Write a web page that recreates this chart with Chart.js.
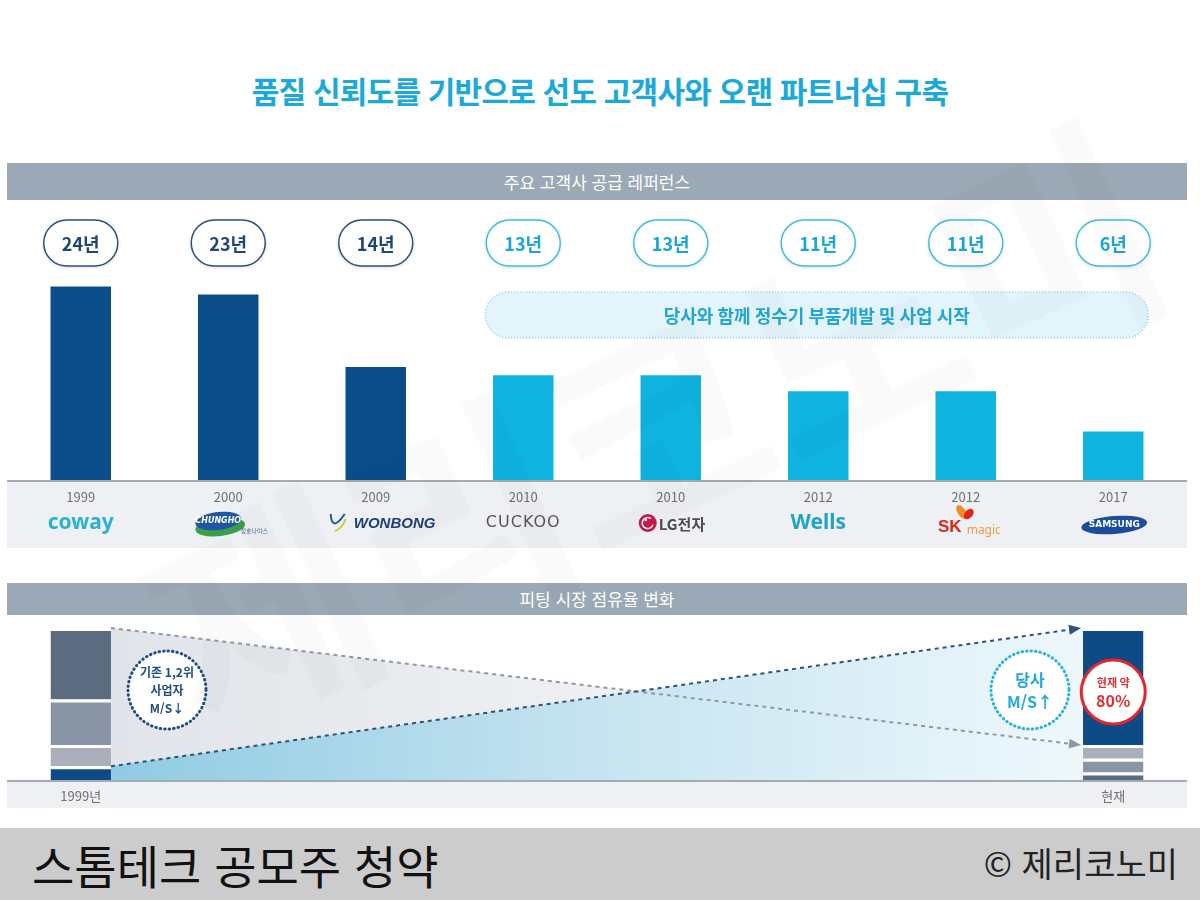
<!DOCTYPE html>
<html lang="ko">
<head>
<meta charset="utf-8">
<script src="https://cdn.jsdelivr.net/npm/chart.js@4.4.1/dist/chart.umd.min.js"></script>
<style>
  html, body { margin: 0; padding: 0; background: #fff; }
  body { width: 1200px; height: 900px; position: relative; overflow: hidden; font-family: 'Noto Sans CJK KR', 'Noto Sans', sans-serif; }
  .title { position: absolute; top: 68px; left: 0; width: 1200px; text-align: center; font-size: 30px; font-weight: 700; color: #1ba9da; letter-spacing: -0.8px; line-height: 44px; }
  .band { position: absolute; left: 7px; width: 1180px; background: #9ba8b5; color: #fff; text-align: center; font-size: 17px; }
  #band1 { top: 163px; height: 37px; line-height: 37px; }
  #band2 { top: 583px; height: 32px; line-height: 32px; }
  .box { position: absolute; left: 0; width: 1200px; }
  #box1 { top: 200px; height: 360px; }
  #box2 { top: 615px; height: 193px; }
  .footer { position: absolute; left: 0; top: 828px; width: 1200px; height: 72px; background: #cccccc; }
  .footer .left { position: absolute; left: 32px; top: 8px; font-size: 46px; line-height: 56px; color: #111; }
  .footer .right { position: absolute; right: 22px; top: 12px; font-size: 34px; line-height: 46px; color: #222; }
  .watermark { position: absolute; left: 110px; top: 250px; font-size: 235px; font-weight: 700; color: rgba(0,0,0,0.02); transform: rotate(-25deg); transform-origin: center; white-space: nowrap; pointer-events: none; }
</style>
</head>
<body>
<div class="title">품질 신뢰도를 기반으로 선도 고객사와 오랜 파트너십 구축</div>
<div class="band" id="band1">주요 고객사 공급 레퍼런스</div>
<div class="box" id="box1"><canvas id="refChart" width="1200" height="360"></canvas></div>
<div class="band" id="band2">피팅 시장 점유율 변화</div>
<div class="box" id="box2"><canvas id="shareChart" width="1200" height="193"></canvas></div>
<div class="footer"><span class="left">스톰테크 공모주 청약</span><span class="right">© 제리코노미</span></div>
<div class="watermark">제리코노미</div>
<script>
// supply references
const years = ['1999', '2000', '2009', '2010', '2010', '2012', '2012', '2017'];
const customers = ['coway', 'CHUNGHO', 'WONBONG', 'CUCKOO', 'LG전자', 'Wells', 'SK magic', 'SAMSUNG'];
const partnerYears = [24, 23, 14, 13, 13, 11, 11, 6];
const withUs = [false, false, false, true, true, true, true, true];

// fitting market share (bottom -> top for 1999, per company)
const periods = ['1999년', '', '', '', '', '', '', '현재'];
const shareCompanies = ['당사', '3위 업체', '2위 업체', '1위 업체'];
const share1999 = [9, 14, 30, 47];
const shareNow = [77, 9, 9, 5];

const NAVY = '#0b4c8a';
const CYAN = '#0fb3e0';
const FONT = "'Noto Sans CJK KR', 'Noto Sans', sans-serif";
Chart.defaults.font.family = FONT;

function roundRect(ctx, x, y, w, h, r) {
  ctx.beginPath();
  ctx.moveTo(x + r, y);
  ctx.arcTo(x + w, y, x + w, y + h, r);
  ctx.arcTo(x + w, y + h, x, y + h, r);
  ctx.arcTo(x, y + h, x, y, r);
  ctx.arcTo(x, y, x + w, y, r);
  ctx.closePath();
}

function drawLogo(ctx, name, x, y) {
  ctx.save();
  ctx.textAlign = 'center';
  ctx.textBaseline = 'middle';
  switch (name) {
    case 'coway':
      ctx.fillStyle = '#27b1dc';
      ctx.font = 'bold 21px "Noto Sans"';
      ctx.fillText('coway', x, y);
      break;
    case 'CHUNGHO':
      ctx.fillStyle = '#3a9f48';
      ctx.beginPath(); ctx.ellipse(x - 8, y + 4, 25, 9, -0.12, 0, Math.PI * 2); ctx.fill();
      ctx.fillStyle = '#1f56a6';
      ctx.beginPath(); ctx.ellipse(x - 10, y - 2, 23, 9, -0.12, 0, Math.PI * 2); ctx.fill();
      ctx.fillStyle = '#fff';
      ctx.font = 'italic bold 8px "DejaVu Sans"';
      ctx.fillText('CHUNGHO', x - 10, y - 2);
      ctx.fillStyle = '#4d6fa8';
      ctx.font = '6px ' + FONT;
      ctx.fillText('청호나이스', x + 26, y + 8);
      break;
    case 'WONBONG':
      ctx.lineWidth = 2;
      ctx.strokeStyle = '#1d5a9a';
      ctx.beginPath(); ctx.moveTo(x - 45, y - 9); ctx.quadraticCurveTo(x - 44, y + 10, x - 31, y - 9); ctx.stroke();
      ctx.strokeStyle = '#c9cf2f';
      ctx.beginPath(); ctx.moveTo(x - 41, y + 8); ctx.quadraticCurveTo(x - 34, y + 6, x - 30, y - 4); ctx.stroke();
      ctx.fillStyle = '#1d3f7a';
      ctx.font = 'italic bold 15px "Liberation Sans"';
      ctx.textAlign = 'left';
      ctx.fillText('WONBONG', x - 22, y + 1);
      break;
    case 'CUCKOO':
      ctx.fillStyle = '#555';
      ctx.font = '16px "DejaVu Sans"';
      ctx.letterSpacing = '1px';
      ctx.fillText('CUCKOO', x, y);
      break;
    case 'LG전자':
      ctx.fillStyle = '#c8174b';
      ctx.beginPath(); ctx.arc(x - 23, y, 9, 0, Math.PI * 2); ctx.fill();
      ctx.strokeStyle = '#fff'; ctx.lineWidth = 1.5;
      ctx.beginPath(); ctx.arc(x - 23, y, 5.5, 0.3, Math.PI * 1.7); ctx.stroke();
      ctx.fillStyle = '#fff';
      ctx.beginPath(); ctx.arc(x - 25, y - 3, 1.2, 0, Math.PI * 2); ctx.fill();
      ctx.fillStyle = '#4d4d4d';
      ctx.font = 'bold 15px ' + FONT;
      ctx.textAlign = 'left';
      ctx.fillText('LG전자', x - 12, y + 1);
      break;
    case 'Wells':
      ctx.fillStyle = '#22a3c9';
      ctx.font = 'bold 21px "Noto Sans"';
      ctx.fillText('Wells', x, y);
      break;
    case 'SK magic':
      ctx.fillStyle = '#f08a24';
      ctx.beginPath(); ctx.ellipse(x - 4, y - 11, 4, 8, -0.6, 0, Math.PI * 2); ctx.fill();
      ctx.fillStyle = '#e2231a';
      ctx.beginPath(); ctx.ellipse(x + 3, y - 9, 4, 6, 0.7, 0, Math.PI * 2); ctx.fill();
      ctx.fillStyle = '#e2231a';
      ctx.font = 'bold 17px "Liberation Sans"';
      ctx.fillText('SK', x - 16, y + 4);
      ctx.fillStyle = '#f29b45';
      ctx.font = '12px "Noto Sans"';
      ctx.fillText('magic', x + 18, y + 8);
      break;
    case 'SAMSUNG':
      ctx.fillStyle = '#1b4c9d';
      ctx.beginPath(); ctx.ellipse(x + 1, y + 2, 33, 9, -0.08, 0, Math.PI * 2); ctx.fill();
      ctx.fillStyle = '#fff';
      ctx.font = 'bold 9px "DejaVu Sans"';
      ctx.fillText('SAMSUNG', x + 1, y + 2);
      break;
  }
  ctx.restore();
}

const refDecor = {
  id: 'refDecor',
  beforeDraw(chart) {
    const { ctx, chartArea } = chart;
    ctx.save();
    ctx.fillStyle = '#eef0f3';
    ctx.fillRect(chartArea.left, chartArea.bottom, chartArea.right - chartArea.left, 68);
    ctx.restore();
  },
  beforeDatasetsDraw(chart) {
    const { ctx } = chart;
    const xs = chart.scales.x;
    const first = withUs.indexOf(true);
    const last = withUs.lastIndexOf(true);
    const x1 = xs.getPixelForValue(first) - 38;
    const x2 = xs.getPixelForValue(last) + 35;
    ctx.save();
    roundRect(ctx, x1, 92, x2 - x1, 46, 23);
    ctx.fillStyle = '#e4f4fb';
    ctx.fill();
    ctx.setLineDash([1, 2]);
    ctx.lineWidth = 1.5;
    ctx.strokeStyle = '#86d2ec';
    ctx.stroke();
    ctx.setLineDash([]);
    ctx.fillStyle = '#22a6d8';
    ctx.font = 'bold 18px ' + FONT;
    ctx.textAlign = 'center';
    ctx.textBaseline = 'middle';
    ctx.fillText('당사와 함께 정수기 부품개발 및 사업 시작', (x1 + x2) / 2, 116);
    ctx.restore();
  },
  afterDatasetsDraw(chart) {
    const { ctx, chartArea } = chart;
    const xs = chart.scales.x;
    ctx.save();
    ctx.strokeStyle = '#a3abb4';
    ctx.lineWidth = 2;
    ctx.beginPath();
    ctx.moveTo(chartArea.left, chartArea.bottom + 1);
    ctx.lineTo(chartArea.right, chartArea.bottom + 1);
    ctx.stroke();
    partnerYears.forEach((v, i) => {
      const x = xs.getPixelForValue(i);
      ctx.save();
      roundRect(ctx, x - 37, 20, 74, 46, 23);
      ctx.shadowColor = 'rgba(0,0,0,0.18)';
      ctx.shadowBlur = 4;
      ctx.shadowOffsetY = 1;
      ctx.fillStyle = '#fff';
      ctx.fill();
      ctx.shadowColor = 'transparent';
      ctx.lineWidth = 1.5;
      ctx.strokeStyle = withUs[i] ? '#3dbde6' : '#2c4f7c';
      ctx.stroke();
      ctx.fillStyle = withUs[i] ? '#1aa6d9' : '#1f4678';
      ctx.font = 'bold 18px ' + FONT;
      ctx.textAlign = 'center';
      ctx.textBaseline = 'middle';
      ctx.fillText(v + '년', x, 44);
      ctx.restore();
      drawLogo(ctx, customers[i], x, chartArea.bottom + 43);
    });
    ctx.restore();
  }
};

new Chart(document.getElementById('refChart'), {
  type: 'bar',
  data: {
    labels: years,
    datasets: [{
      label: '거래 기간',
      data: partnerYears,
      backgroundColor: withUs.map(w => w ? CYAN : NAVY),
      categoryPercentage: 1,
      barPercentage: 0.41
    }]
  },
  options: {
    responsive: false,
    animation: false,
    devicePixelRatio: 1,
    layout: { padding: { left: 7, right: 13, top: 38, bottom: 0 } },
    plugins: { legend: { display: false }, tooltip: { enabled: false } },
    scales: {
      x: {
        grid: { display: false, drawTicks: false },
        border: { display: false },
        ticks: { color: '#707070', font: { size: 13 }, padding: 9 },
        afterFit(scale) { scale.height = 80; }
      },
      y: { display: false, min: 0, max: 30 }
    }
  },
  plugins: [refDecor]
});

// market share chart
const shareColors = { '당사': '#0d4b87', '3위 업체': '#a9b0bc', '2위 업체': '#8995a5', '1위 업체': '#5b6c80' };
const shareSets = [];
shareCompanies.forEach((c, k) => {
  const d = periods.map(() => null);
  d[0] = share1999[k];
  shareSets.push({ label: c + ' (1999)', data: d, backgroundColor: shareColors[c] });
});
shareCompanies.slice().reverse().forEach(c => {
  const k = shareCompanies.indexOf(c);
  const d = periods.map(() => null);
  d[periods.length - 1] = shareNow[k];
  shareSets.push({ label: c + ' (현재)', data: d, backgroundColor: shareColors[c] });
});
shareSets.forEach(s => {
  s.categoryPercentage = 1;
  s.barPercentage = 0.41;
  s.borderColor = '#fff';
  s.borderWidth = { top: 3, right: 0, bottom: 0, left: 0 };
  s.borderSkipped = 'start';
});

function arrowLine(ctx, x1, y1, x2, y2, color) {
  const a = Math.atan2(y2 - y1, x2 - x1);
  ctx.save();
  ctx.strokeStyle = color;
  ctx.lineWidth = 2;
  ctx.setLineDash([4, 4]);
  ctx.beginPath();
  ctx.moveTo(x1, y1);
  ctx.lineTo(x2 - 10 * Math.cos(a), y2 - 10 * Math.sin(a));
  ctx.stroke();
  ctx.setLineDash([]);
  ctx.fillStyle = color;
  ctx.beginPath();
  ctx.moveTo(x2, y2);
  ctx.lineTo(x2 - 12 * Math.cos(a) + 5 * Math.sin(a), y2 - 12 * Math.sin(a) - 5 * Math.cos(a));
  ctx.lineTo(x2 - 12 * Math.cos(a) - 5 * Math.sin(a), y2 - 12 * Math.sin(a) + 5 * Math.cos(a));
  ctx.closePath();
  ctx.fill();
  ctx.restore();
}

function dottedCircle(ctx, x, y, r, color) {
  ctx.save();
  ctx.beginPath();
  ctx.arc(x, y, r, 0, Math.PI * 2);
  ctx.fillStyle = '#fff';
  ctx.fill();
  ctx.setLineDash([0.5, 4]);
  ctx.lineCap = 'round';
  ctx.lineWidth = 3;
  ctx.strokeStyle = color;
  ctx.stroke();
  ctx.restore();
}

const shareDecor = {
  id: 'shareDecor',
  beforeDraw(chart) {
    const { ctx, chartArea } = chart;
    ctx.save();
    ctx.fillStyle = '#eef0f3';
    ctx.fillRect(chartArea.left, chartArea.bottom, chartArea.right - chartArea.left, 28);
    ctx.restore();
  },
  beforeDatasetsDraw(chart) {
    const { ctx } = chart;
    const xs = chart.scales.x, ys = chart.scales.y;
    const half = chart.getDatasetMeta(0).data[0].width / 2;
    const L = xs.getPixelForValue(0) + half;
    const R = xs.getPixelForValue(periods.length - 1) - half;
    const base = ys.getPixelForValue(0);
    const topL = ys.getPixelForValue(share1999.reduce((a, b) => a + b, 0));
    const oursL = ys.getPixelForValue(share1999[0]);
    const topR = ys.getPixelForValue(shareNow.reduce((a, b) => a + b, 0));
    const othersR = ys.getPixelForValue(shareNow.slice(1).reduce((a, b) => a + b, 0));
    ctx.save();
    let g = ctx.createLinearGradient(L, 0, R, 0);
    g.addColorStop(0, '#e1e4e9');
    g.addColorStop(0.6, '#f1f2f4');
    g.addColorStop(1, '#ffffff');
    ctx.fillStyle = g;
    ctx.beginPath();
    ctx.moveTo(L, topL); ctx.lineTo(R, othersR); ctx.lineTo(R, base); ctx.lineTo(L, base);
    ctx.closePath(); ctx.fill();
    g = ctx.createLinearGradient(L, 0, R, 0);
    g.addColorStop(0, '#8fcbe3');
    g.addColorStop(0.5, '#c6e4f0');
    g.addColorStop(1, '#eef8fc');
    ctx.fillStyle = g;
    ctx.beginPath();
    ctx.moveTo(L, oursL); ctx.lineTo(R, topR); ctx.lineTo(R, base); ctx.lineTo(L, base);
    ctx.closePath(); ctx.fill();
    ctx.restore();
    arrowLine(ctx, L, topL, R - 2, othersR, '#8d99a6');
    arrowLine(ctx, L, oursL, R - 2, topR, '#2f5079');
  },
  afterDatasetsDraw(chart) {
    const { ctx, chartArea } = chart;
    const xs = chart.scales.x;
    ctx.save();
    ctx.strokeStyle = '#a3abb4';
    ctx.lineWidth = 2;
    ctx.beginPath();
    ctx.moveTo(chartArea.left, chartArea.bottom + 1);
    ctx.lineTo(chartArea.right, chartArea.bottom + 1);
    ctx.stroke();
    ctx.textAlign = 'center';
    ctx.textBaseline = 'middle';

    dottedCircle(ctx, 167, 75, 39, '#1e4c85');
    ctx.fillStyle = '#1e4c85';
    ctx.font = 'bold 12px ' + FONT;
    ctx.fillText('기존 1,2위', 167, 57);
    ctx.fillText('사업자', 167, 75);
    ctx.fillText('M/S↓', 167, 93);

    dottedCircle(ctx, 1030, 75, 39, '#2ab0de');
    ctx.fillStyle = '#22a9dc';
    ctx.font = 'bold 16px ' + FONT;
    ctx.fillText('당사', 1030, 65);
    ctx.fillText('M/S↑', 1030, 87);

    const rx = xs.getPixelForValue(periods.length - 1);
    ctx.beginPath();
    ctx.arc(rx, 77, 32, 0, Math.PI * 2);
    ctx.fillStyle = '#fff';
    ctx.fill();
    ctx.lineWidth = 3;
    ctx.strokeStyle = '#e2262d';
    ctx.stroke();
    ctx.fillStyle = '#e03036';
    ctx.font = 'bold 11px ' + FONT;
    ctx.fillText('현재 약', rx, 68);
    ctx.font = 'bold 16px ' + FONT;
    ctx.fillText('80%', rx, 86);
    ctx.restore();
  }
};

new Chart(document.getElementById('shareChart'), {
  type: 'bar',
  data: { labels: periods, datasets: shareSets },
  options: {
    responsive: false,
    animation: false,
    devicePixelRatio: 1,
    layout: { padding: { left: 7, right: 13, top: 13, bottom: 0 } },
    plugins: { legend: { display: false }, tooltip: { enabled: false } },
    scales: {
      x: {
        stacked: true,
        grid: { display: false, drawTicks: false },
        border: { display: false },
        ticks: { color: '#707070', font: { size: 13 }, padding: 8, autoSkip: false, maxRotation: 0 },
        afterFit(scale) { scale.height = 28; }
      },
      y: { display: false, stacked: true, min: 0, max: 100 }
    }
  },
  plugins: [shareDecor]
});
</script>
</body>
</html>
